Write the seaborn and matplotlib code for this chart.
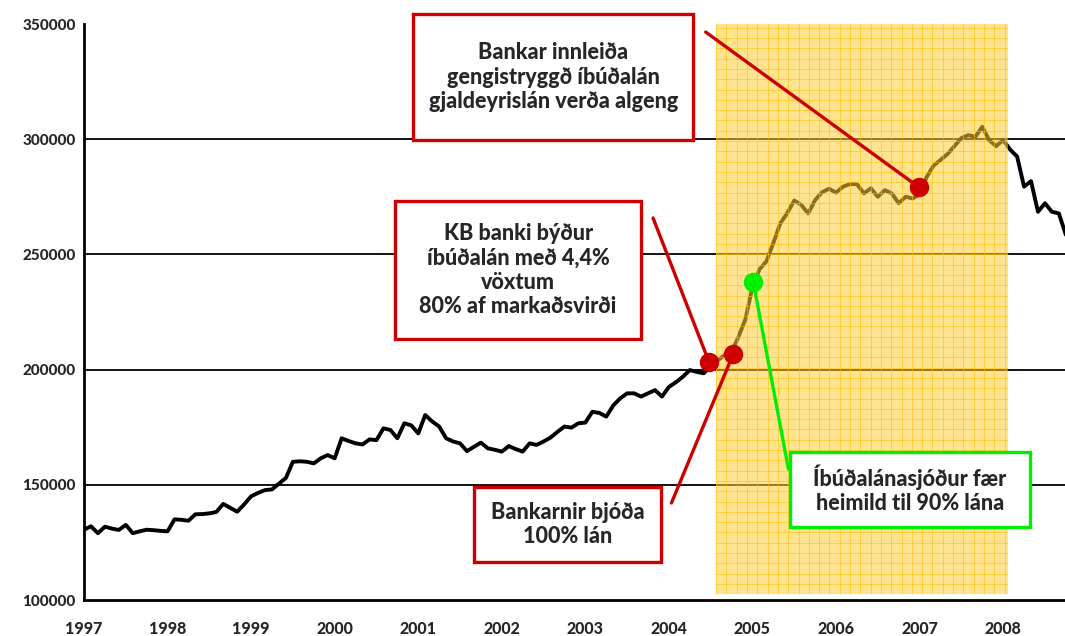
import numpy as np
import pandas as pd
import seaborn as sns
import matplotlib.pyplot as plt
from matplotlib.patches import Rectangle

# monthly index, Jan 1997 - Oct 2008
values = [
    130500, 132000, 129000, 131800, 131000, 130400, 132600, 129000, 129800, 130500, 130300, 130000,
    129800, 135000, 134800, 134400, 137200, 137300, 137600, 138200, 141700, 140000, 138300, 141500,
    145000, 146500, 147700, 148000, 150500, 153000, 160000, 160200, 160000, 159300, 161500, 162900,
    161500, 170200, 169000, 168000, 167500, 169700, 169400, 174500, 173800, 170200, 176700, 175800,
    172300, 180300, 177500, 175300, 170200, 168800, 168000, 164600, 166500, 168300, 165800, 165200,
    164400, 166800, 165500, 164400, 168000, 167300, 168800, 170500, 173000, 175300, 174800, 176700,
    177000, 181700, 181200, 179600, 184400, 187500, 189700, 189700, 188300, 189700, 191100, 188300,
    192500, 194500, 196900, 199800, 199000, 198400, 201500, 204000, 206300, 207500, 214300, 222000,
    236000, 243500, 247000, 255000, 263500, 268000, 273400, 271500, 267800, 273600, 277000, 278500,
    276800, 279400, 280500, 280500, 276500, 278700, 275000, 277900, 276500, 272200, 275000, 274300,
    276000, 283500, 288500, 291000, 293500, 297000, 300500, 301800, 301000, 305400, 299500, 297000,
    299700, 295500, 292500, 279400, 281800, 268500, 272200, 268500, 267800, 258500,
]
months = 1997 + np.arange(len(values)) / 12

years = list(range(1997, 2009))
y_ticks = [100000, 150000, 200000, 250000, 300000, 350000]
grid_levels = [150000, 200000, 250000, 300000]

# highlighted period
period_start, period_end = 2004.565, 2008.06

# events: dot position, connector start, text box (x0, x1, y0, y1), text, colour
event_x = [2006.99, 2004.48, 2004.77, 2005.01]
event_y = [279200, 203300, 206800, 238000]
line_from_x = [2004.44, 2003.81, 2004.03, 2005.43]
line_from_y = [346500, 265800, 142100, 156850]
box_x0 = [2000.94, 2000.72, 2001.67, 2005.45]
box_x1 = [2004.29, 2003.67, 2003.91, 2008.32]
box_y0 = [299600, 213300, 116500, 131700]
box_y1 = [354300, 273200, 149000, 164200]
event_text = [
    "Bankar innleiða\ngengistryggð íbúðalán\ngjaldeyrislán verða algeng",
    "KB banki býður\níbúðalán með 4,4%\nvöxtum\n80% af markaðsvirði",
    "Bankarnir bjóða\n100% lán",
    "Íbúðalánasjóður fær\nheimild til 90% lána",
]
event_color = ["#CC0000", "#CC0000", "#CC0000", "#00EE00"]

df = pd.DataFrame({"date": months, "index": values})

sns.set_style("white")
plt.rcParams["font.family"] = ["Lato", "DejaVu Sans"]

fig = plt.figure(figsize=(10.65, 6.36), dpi=100)
ax = fig.add_axes([84 / 1065, 36 / 636, 981 / 1065, 576 / 636])

for lvl in grid_levels:
    ax.axhline(lvl, color="black", lw=1.3, zorder=1)

sns.lineplot(data=df, x="date", y="index", color="black", lw=2.8, ax=ax, zorder=2)

# yellow highlighted period with a fine grid pattern on top of the line
ax.add_patch(Rectangle((period_start, 102500), period_end - period_start, 350000 - 102500,
                       facecolor="#FFCC33", alpha=0.55, edgecolor="none", zorder=3))
ax.vlines(np.arange(period_start, period_end, 0.1233), 102500, 350000,
          color="#FFC000", lw=0.7, alpha=0.55, zorder=3)
ax.hlines(np.arange(102500 + 4470, 350000, 4470), period_start, period_end,
          color="#FFC000", lw=0.7, alpha=0.55, zorder=3)

for i in range(len(event_x)):
    ax.plot([line_from_x[i], event_x[i]], [line_from_y[i], event_y[i]],
            color=event_color[i], lw=2.4, zorder=4, clip_on=False)
    ax.plot(event_x[i], event_y[i], "o", color=event_color[i], ms=13, zorder=5)
    ax.add_patch(Rectangle((box_x0[i], box_y0[i]), box_x1[i] - box_x0[i], box_y1[i] - box_y0[i],
                           facecolor="white", edgecolor=event_color[i], lw=2.4, zorder=6,
                           clip_on=False))
    ax.text((box_x0[i] + box_x1[i]) / 2, (box_y0[i] + box_y1[i]) / 2, event_text[i],
            ha="center", va="center", fontsize=15.5, fontweight="black", linespacing=1.2,
            zorder=7, clip_on=False)

ax.set_xlim(1997, 2008.74)
ax.set_ylim(100000, 350000)
ax.set_xticks(years)
ax.set_xticklabels([str(y) for y in years], fontsize=11.5, fontweight="black")
ax.set_yticks(y_ticks)
ax.set_yticklabels([str(v) for v in y_ticks], fontsize=11, fontweight="black")
ax.tick_params(axis="x", direction="out", length=6, width=1.5, pad=9, color="black")
ax.tick_params(axis="y", direction="inout", length=8, width=1.5, pad=2, color="black")
ax.set_xlabel("")
ax.set_ylabel("")

for side in ["top", "right"]:
    ax.spines[side].set_visible(False)
for side in ["left", "bottom"]:
    ax.spines[side].set_color("black")
    ax.spines[side].set_linewidth(2)
    ax.spines[side].set_zorder(8)

fig.savefig("out.png", dpi=100)
